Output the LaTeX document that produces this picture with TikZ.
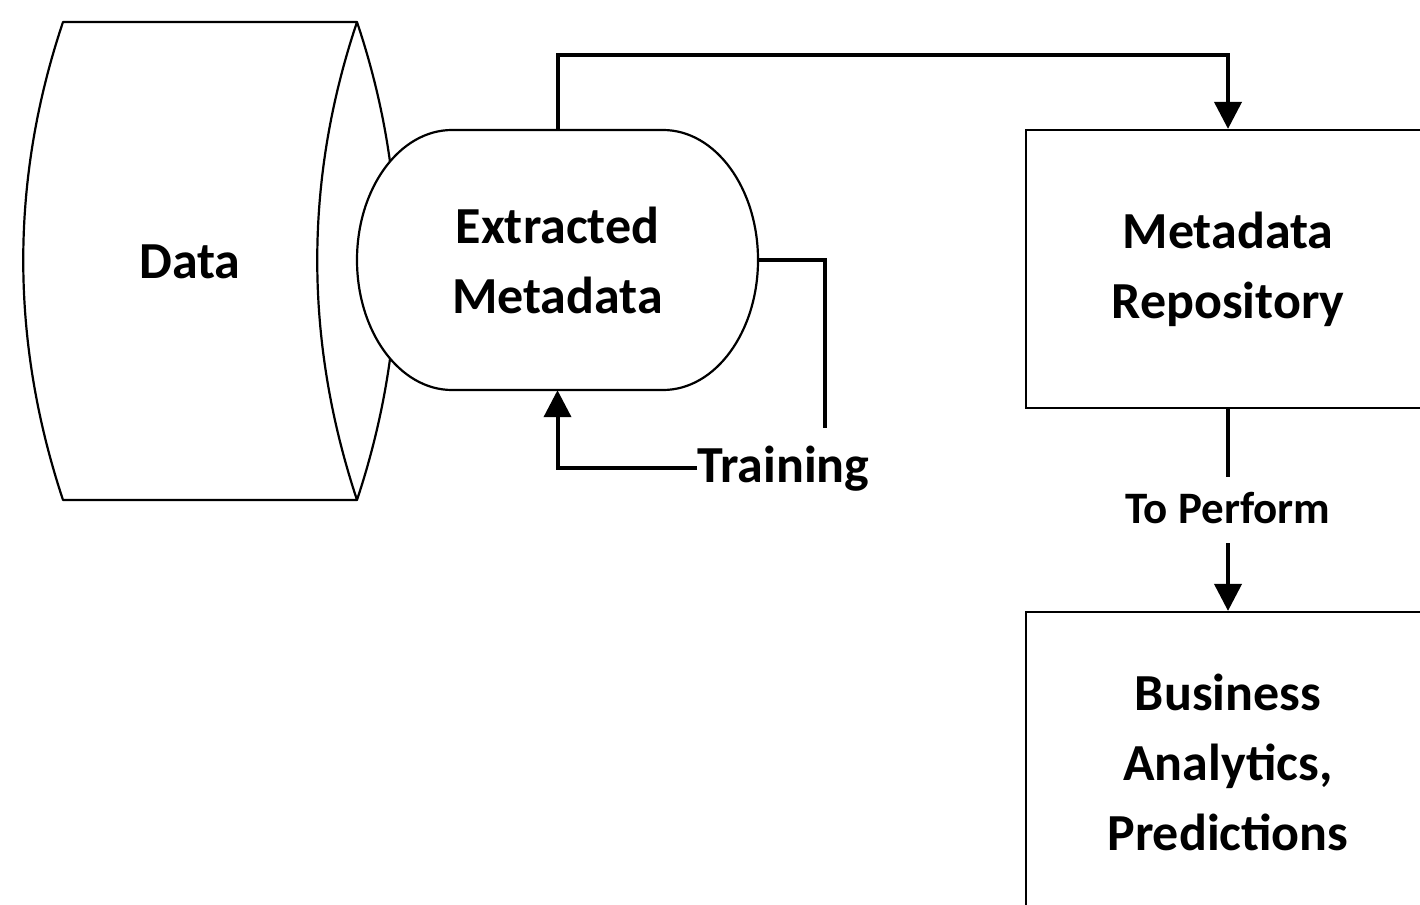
\documentclass[tikz,border=0pt]{standalone}
\usepackage{fontspec}
\setmainfont{Carlito}
\usetikzlibrary{arrows.meta}
\begin{document}
\begin{tikzpicture}[x=1pt,y=-1pt,
  outline/.style={draw=black, line width=2.2pt},
  conn/.style={draw=black, line width=4pt},
  arr/.style={-{Triangle[length=27pt,width=27pt]}},
  lbl/.style={font=\bfseries\fontsize{52}{70}\selectfont, align=center},
  boxnode/.style={outline, fill=white, minimum width=404pt, minimum height=278pt, inner sep=0pt, lbl}]
\clip (0,0) rectangle (1420,904);
\fill[white] (0,0) rectangle (1420,904);
% Data store
\draw[outline, line join=round] (63,22) -- (357,22) .. controls (304,180) and (304,340) .. (357,500) -- (63,500) .. controls (10,340) and (10,180) .. (63,22) -- cycle;
\draw[outline] (357,22) .. controls (410,180) and (410,340) .. (357,500);
\node[lbl] (data) at (190,262) {Data};
% Extracted metadata (stadium)
\draw[outline, fill=white] (452,130) -- (663,130) arc[start angle=-90, end angle=90, x radius=95, y radius=130] -- (452,390) arc[start angle=90, end angle=270, x radius=95, y radius=130] -- cycle;
\node[lbl, minimum width=401pt, minimum height=260pt, inner sep=0pt] (em) at (557.5,260) {Extracted\\Metadata};
% boxes
\node[boxnode] (mr) at (1228,269) {Metadata\\Repository};
\node[boxnode, minimum height=300pt] (ba) at (1228,762) {Business\\Analytics,\\Predictions};
% Training loop
\node[lbl, inner sep=0pt, anchor=base west] (tr) at (697,482) {Training};
\coordinate (trtop) at (825,428);
\draw[conn] (em.east) -| (trtop);
\draw[conn, arr] (tr.west) -| (em.south);
% top connector
\draw[conn, arr] (em.north) -- ++(0,-75) -| (mr.north);
% to perform
\draw[conn, arr] (mr.south) -- node[fill=white, font=\bfseries\fontsize{45}{50}\selectfont, text height=34pt, text depth=8pt, inner sep=12pt] (tp) {To Perform} (ba.north);
\end{tikzpicture}
\end{document}
